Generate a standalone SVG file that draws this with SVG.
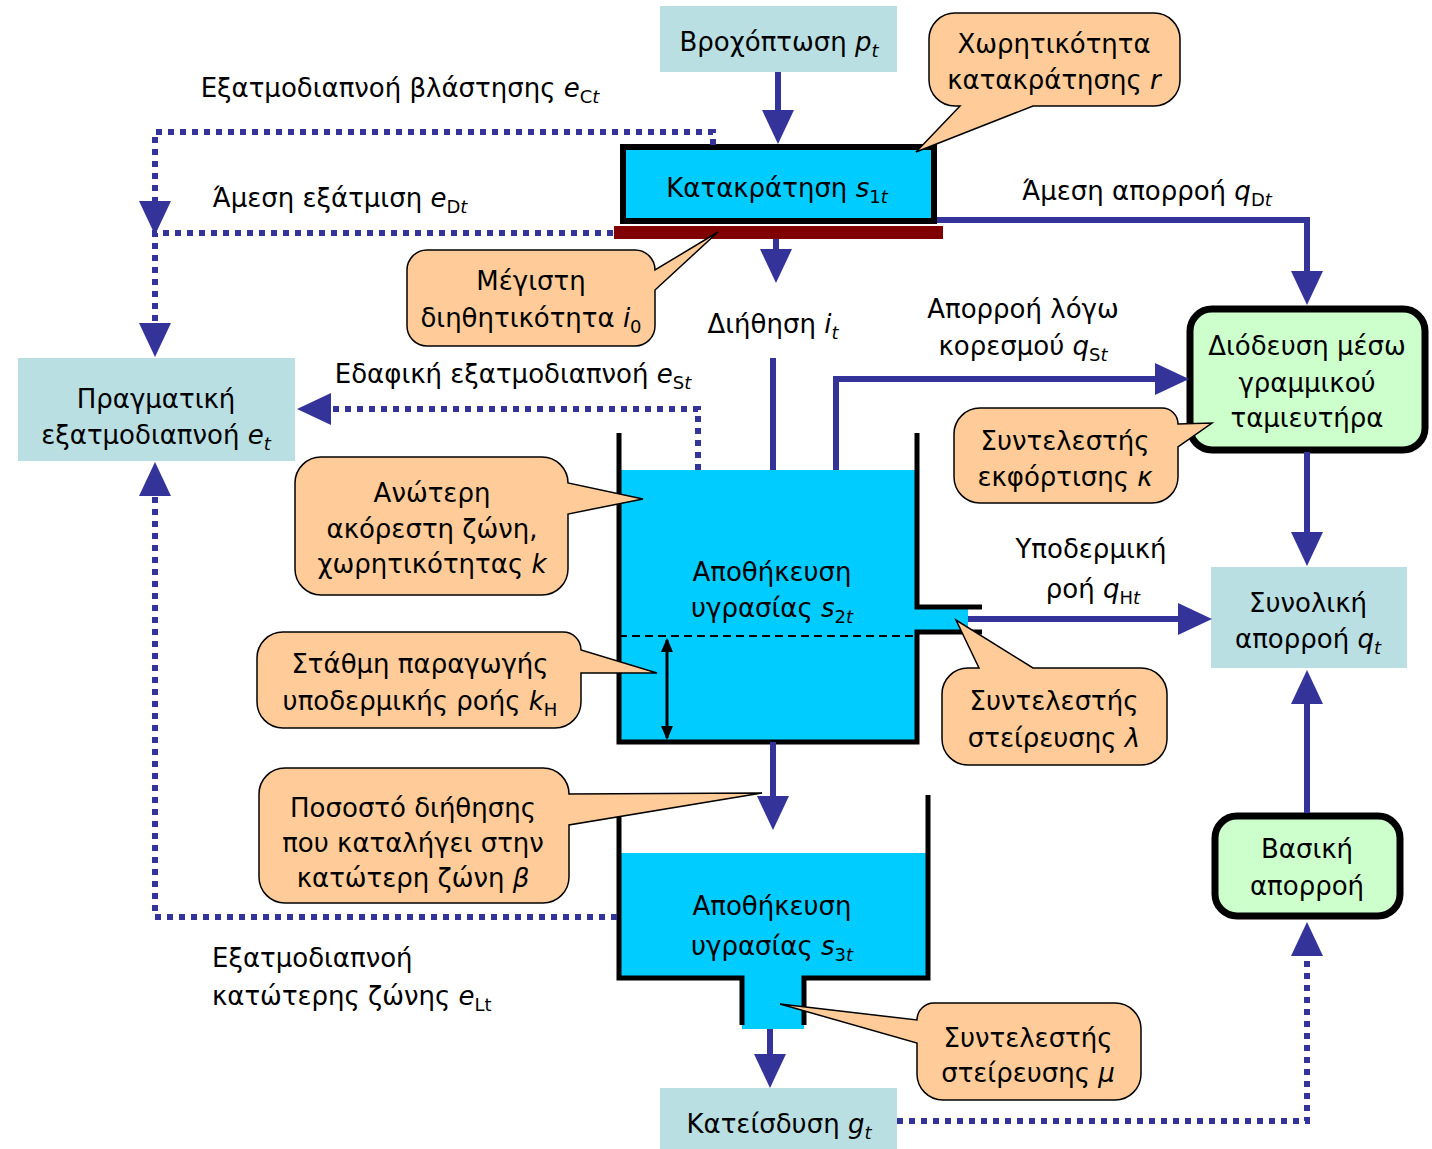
<svg xmlns="http://www.w3.org/2000/svg" width="1432" height="1149" viewBox="0 0 1432 1149">
<defs>
<style>
.t{font-family:"DejaVu Sans","Liberation Sans",sans-serif;font-size:26px;fill:#000;text-anchor:middle}
.l{text-anchor:start}
.i{font-style:italic}
.s{font-size:18px}
.flow{stroke:#333399;stroke-width:6;fill:none;marker-end:url(#ah)}
.dot{stroke:#333399;stroke-width:6;stroke-dasharray:6 6;fill:none}
.dota{marker-end:url(#ah)}
.teal{fill:#B9DFE2}
.green{fill:#CCFFCC;stroke:#000;stroke-width:7}
.cyan{fill:#00CCFF}
.wall{stroke:#000;stroke-width:5;fill:none}
.call{fill:#FFCC99;stroke:#000;stroke-width:1.5}
</style>
<marker id="ah" viewBox="0 0 34 32" refX="20" refY="16" markerWidth="34" markerHeight="32" markerUnits="userSpaceOnUse" orient="auto"><path d="M0,0 L34,16 L0,32 Z" fill="#333399"/></marker>
<marker id="bk" viewBox="0 0 14 12" refX="12" refY="6" markerWidth="14" markerHeight="12" markerUnits="userSpaceOnUse" orient="auto-start-reverse"><path d="M0,0 L14,6 L0,12 Z" fill="#000"/></marker>
</defs>
<rect width="1432" height="1149" fill="#fff"/>

<g id="rain"><rect class="teal" x="660" y="6" width="237" height="66"/><text class="t" x="779" y="51">Βροχόπτωση <tspan class="i">p</tspan><tspan class="s i" dy="6">t</tspan></text></g>
<g id="interception"><rect class="cyan" x="623" y="147" width="311" height="74" stroke="#000" stroke-width="6"/><rect x="614" y="226" width="329" height="13" fill="#800000"/><text class="t" x="777" y="197">Κατακράτηση <tspan class="i">s</tspan><tspan class="s" dy="6">1</tspan><tspan class="s i">t</tspan></text></g>
<g id="actual-et"><rect class="teal" x="18" y="358" width="277" height="103"/><text class="t" x="156" y="408">Πραγματική</text><text class="t" x="156" y="444">εξατμοδιαπνοή <tspan class="i">e</tspan><tspan class="s i" dy="6">t</tspan></text></g>
<g id="upper-tank"><rect class="cyan" x="619" y="470" width="298" height="272"/><rect class="cyan" x="917" y="607" width="51" height="25"/><path class="wall" d="M619,433 V742 H917 V632 H982 M917,433 V607 H982"/><path d="M619,636 H917" stroke="#000" stroke-width="2" stroke-dasharray="8 5"/><path d="M667,640 V738" stroke="#000" stroke-width="3" marker-start="url(#bk)" marker-end="url(#bk)"/><text class="t" x="772" y="581">Αποθήκευση</text><text class="t" x="772" y="617">υγρασίας <tspan class="i">s</tspan><tspan class="s" dy="6">2</tspan><tspan class="s i">t</tspan></text></g>
<g id="lower-tank"><rect class="cyan" x="619" y="853" width="308" height="125"/><rect class="cyan" x="742" y="978" width="62" height="51"/><path class="wall" d="M619,817 V978 H742 V1025 M804,1025 V978 H928 V795"/><text class="t" x="772" y="915">Αποθήκευση</text><text class="t" x="772" y="955">υγρασίας <tspan class="i">s</tspan><tspan class="s" dy="6">3</tspan><tspan class="s i">t</tspan></text></g>
<g id="routing"><rect class="green" x="1190" y="309" width="235" height="141" rx="22"/><text class="t" x="1307" y="355">Διόδευση μέσω</text><text class="t" x="1307" y="392">γραμμικού</text><text class="t" x="1307" y="427">ταμιευτήρα</text></g>
<g id="total-runoff"><rect class="teal" x="1211" y="567" width="196" height="101"/><text class="t" x="1308" y="612">Συνολική</text><text class="t" x="1308" y="648">απορροή <tspan class="i">q</tspan><tspan class="s i" dy="6">t</tspan></text></g>
<g id="baseflow"><rect class="green" x="1215" y="816" width="185" height="100" rx="22"/><text class="t" x="1307" y="858">Βασική</text><text class="t" x="1307" y="895">απορροή</text></g>
<g id="percolation"><rect class="teal" x="660" y="1088" width="237" height="61"/><text class="t" x="779" y="1133">Κατείσδυση <tspan class="i">g</tspan><tspan class="s i" dy="6">t</tspan></text></g>

<g id="connectors">
<path class="flow" d="M778,72 V130"/>
<path class="flow" d="M776,239 V269"/>
<path d="M773,358 V470" stroke="#333399" stroke-width="6"/>
<path class="flow" d="M773,742 V816"/>
<path class="flow" d="M770,1029 V1074"/>
<path class="flow" d="M937,220 H1307 V291"/>
<path class="flow" d="M836,470 V379 H1175"/>
<path class="flow" d="M1307,452 V552"/>
<path class="flow" d="M968,619 H1198"/>
<path class="flow" d="M1307,813 V684"/>
<path class="dot dota" d="M897,1121 H1307 V936"/>
<path class="dot dota" d="M713,145 V132 H155 V221"/>
<path class="dot dota" d="M613,233 H155 V343"/>
<path class="dot dota" d="M698,470 V409 H311"/>
<path class="dot dota" d="M617,917 H155 V476"/>
<text class="t" x="400" y="97">Εξατμοδιαπνοή βλάστησης <tspan class="i">e</tspan><tspan class="s" dy="6">C</tspan><tspan class="s i">t</tspan></text>
<text class="t" x="340" y="207">Άμεση εξάτμιση <tspan class="i">e</tspan><tspan class="s" dy="6">D</tspan><tspan class="s i">t</tspan></text>
<text class="t" x="1147" y="200">Άμεση απορροή <tspan class="i">q</tspan><tspan class="s" dy="6">D</tspan><tspan class="s i">t</tspan></text>
<text class="t" x="773" y="333">Διήθηση <tspan class="i">i</tspan><tspan class="s i" dy="6">t</tspan></text>
<text class="t" x="1023" y="318">Απορροή λόγω</text>
<text class="t" x="1023" y="355">κορεσμού <tspan class="i">q</tspan><tspan class="s" dy="6">S</tspan><tspan class="s i">t</tspan></text>
<text class="t" x="513" y="383">Εδαφική εξατμοδιαπνοή <tspan class="i">e</tspan><tspan class="s" dy="6">S</tspan><tspan class="s i">t</tspan></text>
<text class="t" x="1091" y="558">Υποδερμική</text>
<text class="t" x="1093" y="598">ροή <tspan class="i">q</tspan><tspan class="s" dy="6">H</tspan><tspan class="s i">t</tspan></text>
<text class="t l" x="212" y="967">Εξατμοδιαπνοή</text>
<text class="t l" x="212" y="1005">κατώτερης ζώνης <tspan class="i">e</tspan><tspan class="s" dy="6">L</tspan><tspan class="s">t</tspan></text>
</g>

<g id="callout-r"><path class="call" d="M955,13 H1154 A26,26 0 0 1 1180,39 V80 A26,26 0 0 1 1154,106 H1033 L916,152 L960,106 H955 A26,26 0 0 1 929,80 V39 A26,26 0 0 1 955,13 Z"/><text class="t" x="1054" y="53">Χωρητικότητα</text><text class="t" x="1054" y="89">κατακράτησης <tspan class="i">r</tspan></text></g>
<g id="callout-i0"><path class="call" d="M427,250 H635 A20,20 0 0 1 655,270 L718,232 L655,290 V326 A20,20 0 0 1 635,346 H427 A20,20 0 0 1 407,326 V270 A20,20 0 0 1 427,250 Z"/><text class="t" x="531" y="290">Μέγιστη</text><text class="t" x="531" y="327">διηθητικότητα <tspan class="i">i</tspan><tspan class="s" dy="6">0</tspan></text></g>
<g id="callout-k"><path class="call" d="M321,457 H542 A26,26 0 0 1 568,483 L643,499 L568,514 V569 A26,26 0 0 1 542,595 H321 A26,26 0 0 1 295,569 V483 A26,26 0 0 1 321,457 Z"/><text class="t" x="432" y="502">Ανώτερη</text><text class="t" x="432" y="538">ακόρεστη ζώνη,</text><text class="t" x="432" y="573">χωρητικότητας <tspan class="i">k</tspan></text></g>
<g id="callout-kh"><path class="call" d="M283,632 H563 A18,18 0 0 1 581,650 L657,673 L581,673 V702 A26,26 0 0 1 555,728 H283 A26,26 0 0 1 257,702 V658 A26,26 0 0 1 283,632 Z"/><text class="t" x="420" y="673">Στάθμη παραγωγής</text><text class="t" x="420" y="710">υποδερμικής ροής <tspan class="i">k</tspan><tspan class="s" dy="6">H</tspan></text></g>
<g id="callout-beta"><path class="call" d="M285,768 H543 A26,26 0 0 1 569,794 L762,793 L569,825 V877 A26,26 0 0 1 543,903 H285 A26,26 0 0 1 259,877 V794 A26,26 0 0 1 285,768 Z"/><text class="t" x="413" y="817">Ποσοστό διήθησης</text><text class="t" x="413" y="852">που καταλήγει στην</text><text class="t" x="413" y="887">κατώτερη ζώνη <tspan class="i">β</tspan></text></g>
<g id="callout-kappa"><path class="call" d="M980,408 H1162 A16,16 0 0 1 1178,424 L1212,423 L1178,447 V477 A26,26 0 0 1 1152,503 H980 A26,26 0 0 1 954,477 V434 A26,26 0 0 1 980,408 Z"/><text class="t" x="1065" y="450">Συντελεστής</text><text class="t" x="1065" y="486">εκφόρτισης <tspan class="i">κ</tspan></text></g>
<g id="callout-lambda"><path class="call" d="M968,668 H979 L956,620 L1033,668 H1141 A26,26 0 0 1 1167,694 V739 A26,26 0 0 1 1141,765 H968 A26,26 0 0 1 942,739 V694 A26,26 0 0 1 968,668 Z"/><text class="t" x="1054" y="710">Συντελεστής</text><text class="t" x="1054" y="747">στείρευσης <tspan class="i">λ</tspan></text></g>
<g id="callout-mu"><path class="call" d="M934,1003 H1115 A26,26 0 0 1 1141,1029 V1074 A26,26 0 0 1 1115,1100 H943 A26,26 0 0 1 917,1074 V1043 L780,1004 L917,1020 A17,17 0 0 1 934,1003 Z"/><text class="t" x="1028" y="1047">Συντελεστής</text><text class="t" x="1028" y="1082">στείρευσης <tspan class="i">μ</tspan></text></g>
</svg>
